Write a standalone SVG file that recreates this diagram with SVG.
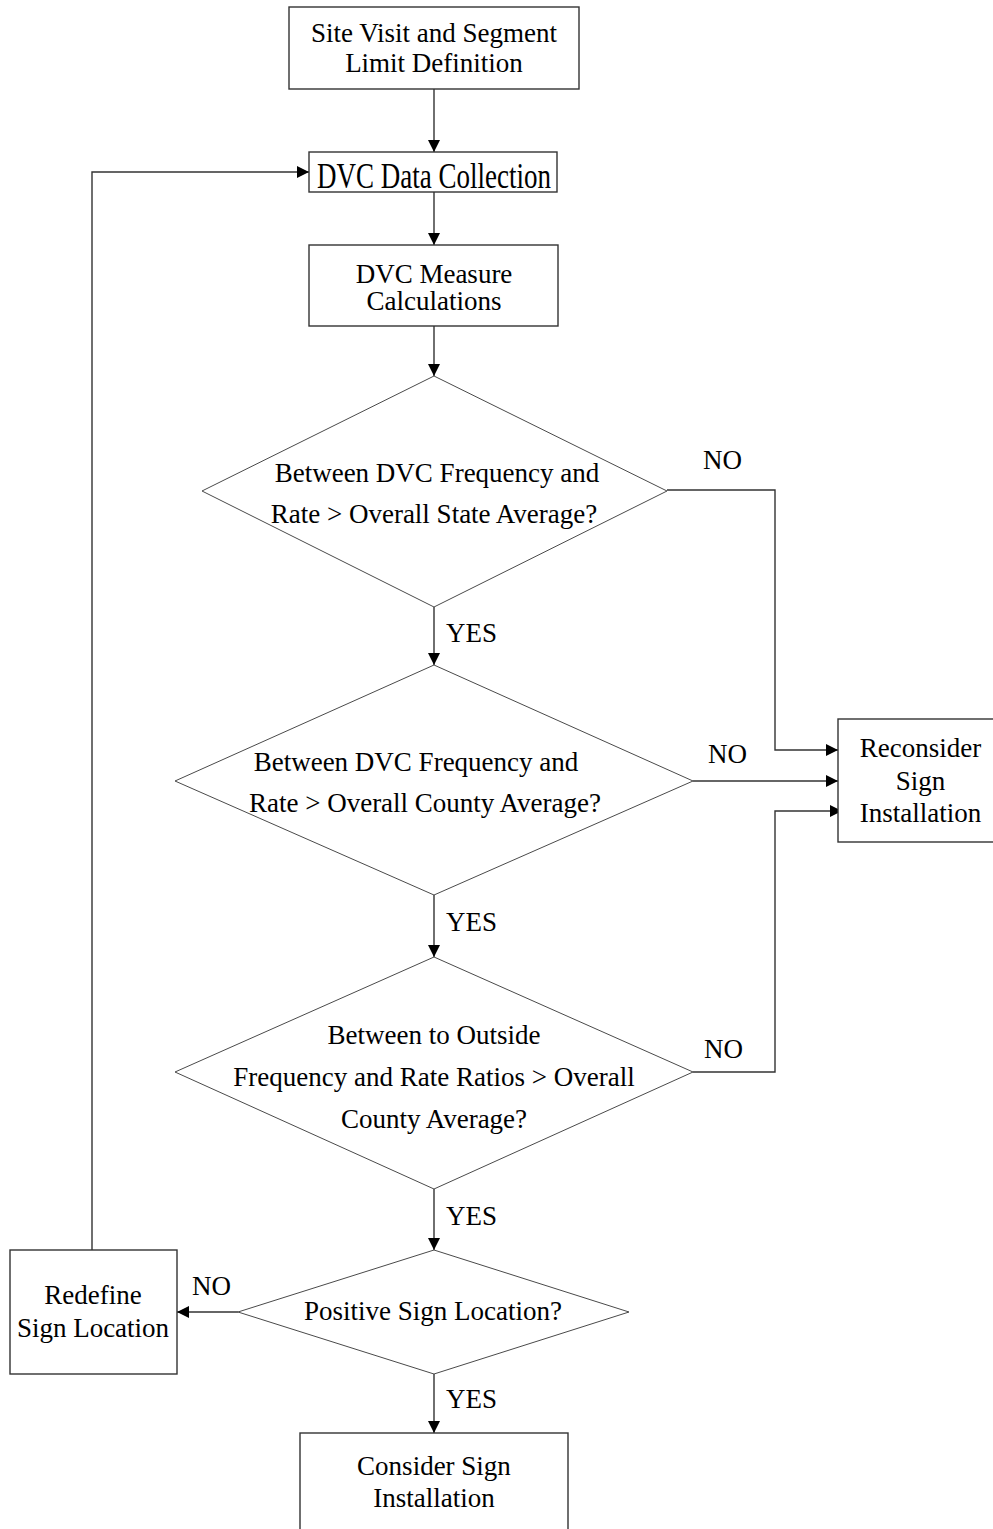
<svg xmlns="http://www.w3.org/2000/svg" width="993" height="1529" viewBox="0 0 993 1529">
<style>
text{font-family:"Liberation Serif","Times New Roman",serif;font-size:27px;fill:#000}
.c{text-anchor:middle}
.box{fill:#fff;stroke:#333;stroke-width:1.4}
.dia{fill:#fff;stroke:#4a4a4a;stroke-width:1}
.con{fill:none;stroke:#333;stroke-width:1.4;marker-end:url(#ah)}
</style>
<defs>
<marker id="ah" viewBox="0 0 12 12" refX="12" refY="6" markerUnits="userSpaceOnUse" markerWidth="12" markerHeight="12" orient="auto">
<path d="M0,0 L12,6 L0,12 z" fill="#000"/>
</marker>
</defs>
<rect width="993" height="1529" fill="#fff"/>

<g id="connectors">
<path class="con" d="M434,89 V152"/>
<path class="con" d="M434,192 V245"/>
<path class="con" d="M434,326 V376"/>
<path class="con" d="M434,607 V665"/>
<path class="con" d="M434,895 V957"/>
<path class="con" d="M434,1189 V1250"/>
<path class="con" d="M434,1374 V1433"/>
<path class="con" d="M667,490 H775 V750 H838"/>
<path class="con" d="M693,781 H838"/>
<path class="con" d="M693,1072 H775 V811 H842"/>
<path class="con" d="M238,1312 H177"/>
<path class="con" d="M92,1250 V172 H309"/>
</g>

<g id="site-visit">
<rect class="box" x="289" y="7" width="290" height="82"/>
<text class="c" x="434" y="42">Site Visit and Segment</text>
<text class="c" x="434" y="72">Limit Definition</text>
</g>

<g id="data-collection">
<rect class="box" x="309" y="152" width="248" height="40"/>
<text class="c" transform="translate(434,187.5) scale(1,1.33)" x="0" y="0">DVC Data Collection</text>
</g>

<g id="measure-calc">
<rect class="box" x="309" y="245" width="249" height="81"/>
<text class="c" x="434" y="283">DVC Measure</text>
<text class="c" x="434" y="310">Calculations</text>
</g>

<g id="decision-state">
<polygon class="dia" points="434,376 667,491 434,607 202,491"/>
<text class="c" x="437" y="482">Between DVC Frequency and</text>
<text class="c" x="434" y="523">Rate &gt; Overall State Average?</text>
</g>

<g id="decision-county">
<polygon class="dia" points="434,665 693,781 434,895 175,781"/>
<text class="c" x="416" y="771">Between DVC Frequency and</text>
<text class="c" x="425" y="812">Rate &gt; Overall County Average?</text>
</g>

<g id="decision-ratio">
<polygon class="dia" points="434,957 693,1072 434,1189 175,1072"/>
<text class="c" x="434" y="1044">Between to Outside</text>
<text class="c" x="434" y="1086">Frequency and Rate Ratios &gt; Overall</text>
<text class="c" x="434" y="1128">County Average?</text>
</g>

<g id="decision-location">
<polygon class="dia" points="434,1250 629,1312 434,1374 238,1312"/>
<text class="c" x="433" y="1320">Positive Sign Location?</text>
</g>

<g id="reconsider">
<rect class="box" x="838" y="719" width="170" height="123"/>
<text class="c" x="920.5" y="757">Reconsider</text>
<text class="c" x="920.5" y="790">Sign</text>
<text class="c" x="920.5" y="822">Installation</text>
</g>

<g id="redefine">
<rect class="box" x="10" y="1250" width="167" height="124"/>
<text class="c" x="93" y="1304">Redefine</text>
<text class="c" x="93" y="1337">Sign Location</text>
</g>

<g id="consider">
<rect class="box" x="300" y="1433" width="268" height="110"/>
<text class="c" x="434" y="1475">Consider Sign</text>
<text class="c" x="434" y="1507">Installation</text>
</g>

<g id="labels">
<text x="446" y="642">YES</text>
<text x="446" y="931">YES</text>
<text x="446" y="1225">YES</text>
<text x="446" y="1408">YES</text>
<text x="703" y="469">NO</text>
<text x="708" y="763">NO</text>
<text x="704" y="1058">NO</text>
<text x="192" y="1295">NO</text>
</g>
</svg>
